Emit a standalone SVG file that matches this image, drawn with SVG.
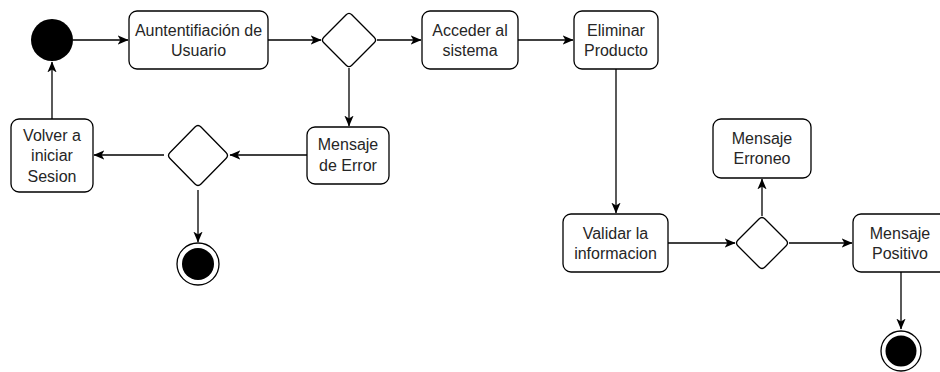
<svg xmlns="http://www.w3.org/2000/svg" width="940" height="372" viewBox="0 0 940 372">
  <style>
    .box { fill: #ffffff; stroke: #000000; stroke-width: 1.3; }
    .dia { fill: #ffffff; stroke: #000000; stroke-width: 1.3; stroke-linejoin: round; }
    .edge { fill: none; stroke: #000000; stroke-width: 1.3; marker-end: url(#arrow); }
    .lbl { font-family: "Liberation Sans", Arial, sans-serif; font-size: 16px; fill: #262626; text-anchor: middle; }
  </style>
  <defs>
    <marker id="arrow" viewBox="0 0 10 10" refX="9.5" refY="5" markerWidth="11" markerHeight="11" markerUnits="userSpaceOnUse" orient="auto">
      <path d="M0,0.8 L10,5 L0,9.2 L2.6,5 Z" fill="#000000"/>
    </marker>
  </defs>
  <rect width="940" height="372" fill="#ffffff"/>

  <g id="connectors">
    <path class="edge" d="M73,40 L128,40"/>
    <path class="edge" d="M268,40 L321,40"/>
    <path class="edge" d="M377,40 L421,40"/>
    <path class="edge" d="M518,40 L573,40"/>
    <path class="edge" d="M616,69 L616,213"/>
    <path class="edge" d="M349,68 L349,126"/>
    <path class="edge" d="M307,155 L230,155"/>
    <path class="edge" d="M164,155 L94,155"/>
    <path class="edge" d="M198,190 L198,242"/>
    <path class="edge" d="M52,119 L52,62"/>
    <path class="edge" d="M668,243 L735,243"/>
    <path class="edge" d="M762,216 L762,179"/>
    <path class="edge" d="M789,243 L852,243"/>
    <path class="edge" d="M901,272 L901,329"/>
  </g>

  <g id="start">
    <circle cx="52" cy="40" r="21" fill="#000000"/>
  </g>

  <g id="autenticacion">
    <rect class="box" x="129" y="11" width="139" height="58" rx="8"/>
    <text class="lbl" x="198.5" y="36">Auntentifiación de</text>
    <text class="lbl" x="198.5" y="56">Usuario</text>
  </g>

  <g id="decision1">
    <path class="dia" d="M351.8,14.8 L374.2,37.2 Q377,40 374.2,42.8 L351.8,65.2 Q349,68 346.2,65.2 L323.8,42.8 Q321,40 323.8,37.2 L346.2,14.8 Q349,12 351.8,14.8 Z"/>
  </g>

  <g id="acceder">
    <rect class="box" x="422" y="11" width="96" height="58" rx="8"/>
    <text class="lbl" x="470" y="36">Acceder al</text>
    <text class="lbl" x="470" y="56">sistema</text>
  </g>

  <g id="eliminar">
    <rect class="box" x="574" y="11" width="84" height="58" rx="8"/>
    <text class="lbl" x="616" y="36">Eliminar</text>
    <text class="lbl" x="616" y="56">Producto</text>
  </g>

  <g id="mensaje-error">
    <rect class="box" x="307" y="127" width="82" height="57" rx="8"/>
    <text class="lbl" x="348" y="150">Mensaje</text>
    <text class="lbl" x="348" y="171">de Error</text>
  </g>

  <g id="decision2">
    <path class="dia" d="M201,127 L226,152.5 Q229,155.5 226,158.5 L201,184 Q198,187 195,184 L170,158.5 Q167,155.5 170,152.5 L195,127 Q198,124 201,127 Z"/>
  </g>

  <g id="volver">
    <rect class="box" x="11" y="119" width="82" height="73" rx="8"/>
    <text class="lbl" x="52" y="141">Volver a</text>
    <text class="lbl" x="52" y="161">iniciar</text>
    <text class="lbl" x="52" y="182">Sesion</text>
  </g>

  <g id="end1">
    <circle cx="198" cy="264" r="21" fill="#ffffff" stroke="#000000" stroke-width="1.3"/>
    <circle cx="198" cy="264" r="16" fill="#000000"/>
  </g>

  <g id="validar">
    <rect class="box" x="563" y="214" width="105" height="58" rx="8"/>
    <text class="lbl" x="615.5" y="239">Validar la</text>
    <text class="lbl" x="615.5" y="259">informacion</text>
  </g>

  <g id="decision3">
    <path class="dia" d="M765,219 L786,240 Q789,243 786,246 L765,267 Q762,270 759,267 L738,246 Q735,243 738,240 L759,219 Q762,216 765,219 Z"/>
  </g>

  <g id="mensaje-erroneo">
    <rect class="box" x="713" y="119" width="98" height="59" rx="8"/>
    <text class="lbl" x="762" y="144">Mensaje</text>
    <text class="lbl" x="762" y="164">Erroneo</text>
  </g>

  <g id="mensaje-positivo">
    <rect class="box" x="853" y="214" width="95" height="58" rx="8"/>
    <text class="lbl" x="900" y="239">Mensaje</text>
    <text class="lbl" x="900" y="259">Positivo</text>
  </g>

  <g id="end2">
    <circle cx="901" cy="351" r="20" fill="#ffffff" stroke="#000000" stroke-width="1.3"/>
    <circle cx="901" cy="351" r="15.5" fill="#000000"/>
  </g>
</svg>
